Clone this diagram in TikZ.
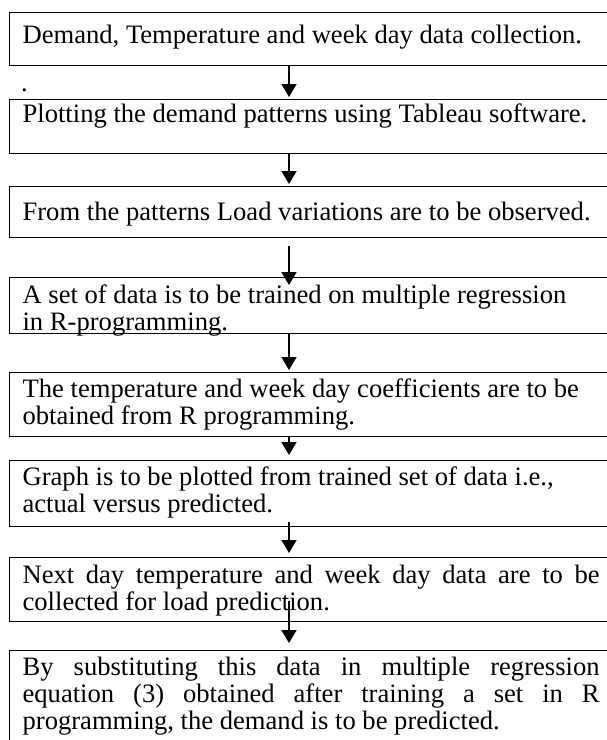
\documentclass[tikz,border=0pt]{standalone}
\usepackage{fontspec}
\setmainfont{Liberation Serif}
\usetikzlibrary{arrows.meta}
\tolerance=9999

\begin{document}
\begin{tikzpicture}[x=1pt,y=-1pt]
	\tikzstyle{stepbox}=[draw, line width=1.2pt, anchor=north west, inner xsep=13pt, inner ysep=0pt, text width=577pt, align=flush left, font=\fontsize{26.6}{27}\selectfont]
	\tikzstyle{flow}=[-{Triangle[length=13pt,width=15pt]}, line width=1.5pt]

	\useasboundingbox (0,0) rectangle (606,740);

	\node (collect) [stepbox, text height=31pt, text depth=22pt] at (9,12) {Demand, Temperature and week day data collection.};
	\node (dot) [anchor=base west, inner sep=0pt, font=\fontsize{26.6}{27}\selectfont] at (21,91) {.};
	\node (plot) [stepbox, text height=23pt, text depth=31pt] at (9,99) {Plotting the demand patterns using Tableau software.};
	\node (observe) [stepbox, text height=34pt, text depth=17pt] at (9,186) {From the patterns Load variations are to be observed.};
	\node (train) [stepbox, text height=26pt, text depth=30pt] at (9,277) {A set of data is to be trained on multiple regression\\in R-programming.};
	\node (coeff) [stepbox, text height=25pt, text depth=39pt] at (9,372) {The temperature and week day coefficients are to be\\obtained from R programming.};
	\node (graph) [stepbox, text height=25pt, text depth=41pt] at (9,460) {Graph is to be plotted from trained set of data i.e.,\\actual versus predicted.};
	\node (nextday) [stepbox, align=justify, text height=26pt, text depth=38pt] at (9,557) {Next day temperature and week day data are to be\linebreak collected for load prediction.};
	\node (predict) [stepbox, align=justify, text height=25pt, text depth=70pt] at (9,650) {By substituting this data in multiple regression\linebreak equation (3) obtained after training a set in R\linebreak programming, the demand is to be predicted.};

	\draw[flow] ([xshift=280pt]collect.south west) -- ([xshift=280pt,yshift=2pt]plot.north west);
	\draw[flow] ([xshift=280pt]plot.south west) -- ([xshift=280pt,yshift=2pt]observe.north west);
	\draw[flow] ([xshift=280pt,yshift=-8pt]observe.south west) -- ([xshift=280pt,yshift=-8pt]train.north west);
	\draw[flow] ([xshift=280pt]train.south west) -- ([xshift=280pt,yshift=2pt]coeff.north west);
	\draw[flow] ([xshift=280pt]coeff.south west) -- ([xshift=280pt,yshift=5pt]graph.north west);
	\draw[flow] ([xshift=280pt,yshift=5pt]graph.south west) -- ([xshift=280pt,yshift=4pt]nextday.north west);
	\draw[flow] ([xshift=280pt,yshift=21pt]nextday.south west) -- ([xshift=280pt,yshift=7pt]predict.north west);
\end{tikzpicture}
\end{document}
